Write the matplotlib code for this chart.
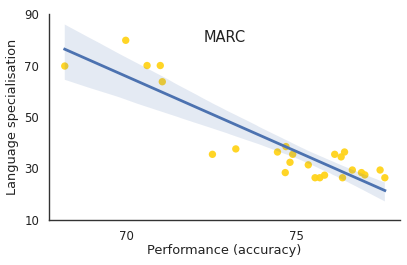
import matplotlib
matplotlib.use("Agg")
import matplotlib.pyplot as plt
import seaborn as sns
import numpy as np

performance = [68.17, 69.97, 70.6, 70.99, 71.05, 72.53, 73.22, 74.45, 74.70, 74.68,
               74.82, 74.90, 75.36, 75.56, 75.70, 75.84, 76.14, 76.33, 76.43, 76.37,
               76.66, 76.93, 77.03, 77.48, 77.62]
specialisation = [69.8, 79.8, 70.0, 70.0, 63.7, 35.5, 37.6, 36.4, 38.5, 28.4,
                  32.4, 35.5, 31.4, 26.4, 26.4, 27.4, 35.5, 34.5, 36.4, 26.4,
                  29.4, 28.4, 27.5, 29.4, 26.4]
x_ticks = [70, 75]
y_ticks = [10, 30, 50, 70, 90]
title = "MARC"

fig = plt.figure(figsize=(4.07, 2.65), dpi=100)
ax = fig.add_axes([0.12, 0.17, 0.863, 0.777])

sns.regplot(x=np.array(performance), y=np.array(specialisation), ax=ax, ci=95, seed=0,
            scatter_kws=dict(color="#FFD31A", s=28, alpha=0.95, edgecolor="none"),
            line_kws=dict(color="#4C72B0", lw=2))

ax.set_xlim(67.7, 78.07)
ax.set_ylim(10, 90)
ax.set_xticks(x_ticks)
ax.set_yticks(y_ticks)
ax.tick_params(length=0, labelsize=8.5, pad=7, colors="#222222")
for s in ["top", "right"]:
    ax.spines[s].set_visible(False)
for s in ["left", "bottom"]:
    ax.spines[s].set_color("#333333")
    ax.spines[s].set_linewidth(1.0)
ax.set_xlabel("Performance (accuracy)", fontsize=9.3, labelpad=1, color="#222222")
ax.set_ylabel("Language specialisation", fontsize=9.3, labelpad=3.5, color="#222222")
ax.text(0.5, 0.885, title, transform=ax.transAxes, ha="center", va="center",
        fontsize=10.5, color="#222222")

fig.savefig("out.png", dpi=100)
